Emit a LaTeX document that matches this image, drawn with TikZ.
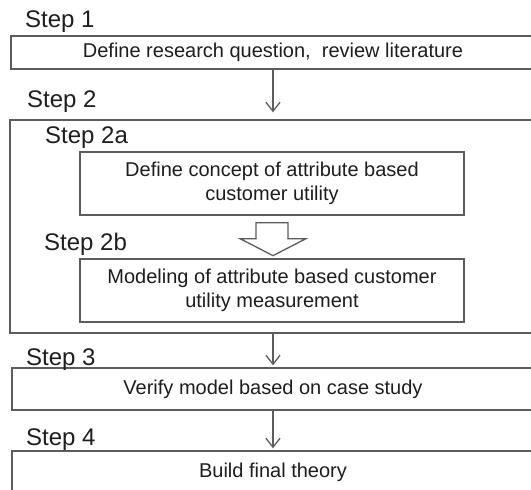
\documentclass[tikz,border=0pt]{standalone}
\usepackage{fontspec}
\setmainfont{Liberation Sans}
\usetikzlibrary{arrows.meta,calc}
\definecolor{linegray}{HTML}{5C5C5C}
\definecolor{textdark}{HTML}{1E1E1E}
\tikzset{
  boxline/.style={draw=linegray, line width=1.3pt},
  stepbox/.style={boxline, rectangle, inner sep=0pt, text=textdark, align=center,
    font=\fontsize{20}{24}\selectfont},
  steplabel/.style={anchor=base west, inner sep=0pt, text=textdark,
    font=\fontsize{24}{28}\selectfont},
  arr/.style={draw=linegray, line width=1.3pt, -{Straight Barb[length=9pt,width=14pt,line width=1.3pt]}},
}
\begin{document}
\begin{tikzpicture}[x=1pt,y=-1pt]
\useasboundingbox (0,0) rectangle (531,490);
\clip (0,0) rectangle (531,490);
\fill[white] (0,0) rectangle (531,490);

% outer step 2 container
\node[stepbox, minimum width=525pt, minimum height=213pt] (s2) at (272.5,226.5) {};

\node[stepbox, minimum width=524pt, minimum height=33pt] (s1) at (273,52.5)
  {Define research question,\ \ review literature};
\node[stepbox, minimum width=384pt, minimum height=63pt] (s2a) at (272,183.5)
  {Define concept of attribute based\\customer utility};
\node[stepbox, minimum width=384pt, minimum height=63pt] (s2b) at (272,290.5)
  {Modeling of attribute based customer\\utility measurement};
\node[stepbox, minimum width=522pt, minimum height=42pt] (s3) at (273,389)
  {Verify model based on case study};
\node[stepbox, minimum width=522pt, minimum height=42pt] (s4) at (273,472)
  {Build final theory};

% labels
\node[steplabel] (l1) at (25,27) {Step 1};
\node[steplabel] (l2) at (27,107) {Step 2};
\node[steplabel] (l2a) at (45,143) {Step 2a};
\node[steplabel] (l2b) at (44,250) {Step 2b};
\node[steplabel] (l3) at (26,365) {Step 3};
\node[steplabel] (l4) at (26,445) {Step 4};

% arrows
\draw[arr, shorten >=7pt] (s1.south) -- (s1.south |- s2.north);
\draw[arr, shorten >=2pt] (s2.south -| s3.north) -- (s3.north);
\draw[arr, shorten >=2pt] (s3.south) -- (s4.north);

% hollow block arrow from 2a to 2b
\coordinate (ha) at (s2a.south);
\draw[boxline, fill=white, line join=miter]
  ($(ha)+(-16,7)$) -- ($(ha)+(16,7)$) -- ($(ha)+(16,23)$) -- ($(ha)+(34,23)$)
  -- ($(ha)+(1,40)$) -- ($(ha)+(-32,23)$) -- ($(ha)+(-16,23)$) -- cycle;
\end{tikzpicture}
\end{document}
